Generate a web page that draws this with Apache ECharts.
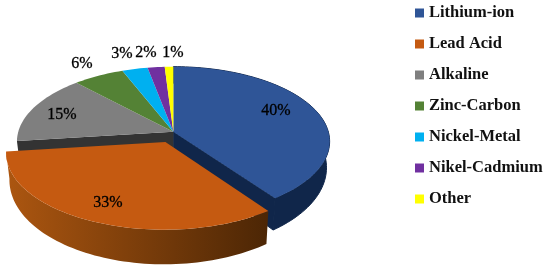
<!DOCTYPE html>
<html>
<head>
<meta charset="utf-8">
<style>
  html, body { margin: 0; padding: 0; background: #fff; }
  #chart-container { width: 550px; height: 267px; }
</style>
<script src="https://cdn.jsdelivr.net/npm/echarts@6/dist/echarts.min.js"></script>
</head>
<body>
<div id="chart-container"></div>
<script>
const categories = ['Lithium-ion', 'Lead Acid', 'Alkaline', 'Zinc-Carbon', 'Nickel-Metal', 'Nikel-Cadmium', 'Other'];
const shares = [40, 33, 15, 6, 3, 2, 1];
const colors = ['#2f5597', '#c55a11', '#7f7f7f', '#548235', '#00b0f0', '#7030a0', '#ffff00'];

// hand placed labels, like the original
const labelAt = [[276, 111], [108, 203], [62, 115], [82, 64], [122, 54], [146, 53], [173, 53]];

// fake 3D disc
const cx = 173.3, cy = 131.7, rx = 155, ry = 73.5, persp = 0.13;
const pulled = { dx: -0.05, dy: 0.136 }; // Lead Acid slice is pulled out

const project = (theta, r, off, down) => {
	const X = r * Math.sin(theta) + off.dx;
	const Y = -r * Math.cos(theta) + off.dy;
	const s = 1 / (1 - persp * Y);
	const depth = down ? 25 + 8.5 * Y : 0;
	const shrink = down ? 0.98 : 1;
	return [cx + rx * X * s * shrink, cy + ry * Y * s + depth];
};

const arc = (a0, a1, off, down) => {
	const pts = [];
	const n = Math.max(2, Math.ceil((a1 - a0) / 0.03));
	for (let i = 0; i <= n; i++) {
		pts.push(project(a0 + (a1 - a0) * i / n, 1, off, down));
	}
	return pts;
};

const wallFill = (from, to) => new echarts.graphic.LinearGradient(0, 0, 1, 0, [
	{ offset: 0, color: from },
	{ offset: 1, color: to }
]);

const poly = (points, fill, stroke) => ({
	type: 'polygon',
	shape: { points: points },
	style: stroke ? { fill: fill, stroke: stroke, lineWidth: 1 } : { fill: fill }
});

const total = shares.reduce((a, b) => a + b, 0);

const makeSeries = (name, i) => {
	const before = shares.slice(0, i).reduce((a, b) => a + b, 0);
	const a0 = before / total * Math.PI * 2;
	const a1 = (before + shares[i]) / total * Math.PI * 2;
	const off = i === 1 ? pulled : { dx: 0, dy: 0 };

	return {
		name: name,
		type: 'custom',
		coordinateSystem: 'none',
		silent: true,
		animation: false,
		z: i === 1 ? 5 : 2,
		itemStyle: { color: colors[i] },
		data: [[shares[i]]],
		renderItem: () => {
			const kids = [];
			const top = arc(a0, a1, off, false);
			const bottom = arc(a0, a1, off, true);
			const apex = project(0, 0, off, false);
			const apexDown = project(0, 0, off, true);

			if (i === 0) {
				// outer wall and the cut face below the slice edge
				kids.push(poly(top.concat(bottom.slice().reverse()), '#10264a', '#10264a'));
				kids.push(poly([apex, top[top.length - 1], bottom[bottom.length - 1], apexDown], '#10264a', '#10264a'));
			}
			if (i === 1) {
				kids.push(poly(top.concat(bottom.slice().reverse()), wallFill('#ac5610', '#4c2605')));
			}
			if (i === 2) {
				kids.push(poly([apex, top[0], bottom[0], apexDown], '#333333'));
			}
			kids.push(poly([apex].concat(top), colors[i]));
			kids.push({
				type: 'text',
				z2: 10,
				style: {
					x: labelAt[i][0],
					y: labelAt[i][1],
					text: shares[i] + '%',
					fill: '#000',
					stroke: '#000',
					lineWidth: 0.3,
					font: '16px "Liberation Serif"',
					align: 'center',
					verticalAlign: 'middle'
				}
			});
			return { type: 'group', children: kids };
		}
	};
};

const myChart = echarts.init(document.getElementById('chart-container'));
const option = {
	animation: false,
	legend: {
		orient: 'vertical',
		left: 415,
		top: 3,
		padding: 0,
		icon: 'rect',
		selectedMode: false,
		itemWidth: 9,
		itemHeight: 9,
		itemGap: 11,
		data: categories,
		textStyle: {
			fontFamily: 'Liberation Serif',
			fontWeight: 'bold',
			fontSize: 16.5,
			lineHeight: 20,
			color: '#111'
		}
	},
	series: categories.map(makeSeries)
};
myChart.setOption(option);
</script>
</body>
</html>
